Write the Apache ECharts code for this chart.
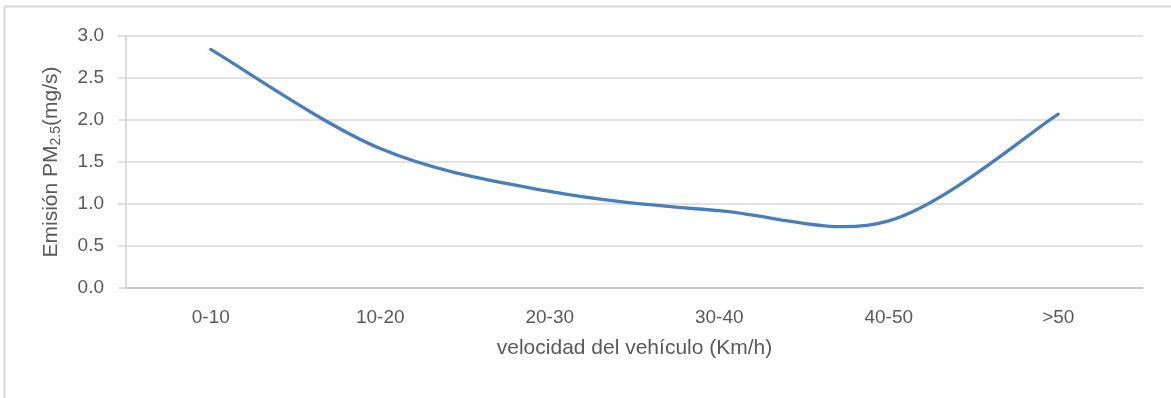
<!DOCTYPE html>
<html>
<head>
<meta charset="utf-8">
<script src="https://cdn.jsdelivr.net/npm/echarts@6/dist/echarts.min.js"></script>
<style>
html,body{margin:0;padding:0;background:#fff;}
#c{width:1171px;height:398px;}
</style>
</head>
<body>
<div id="c"></div>
<script>
const categories = ['0-10', '10-20', '20-30', '30-40', '40-50', '>50'];
const emission = [2.84, 1.66, 1.15, 0.92, 0.80, 2.07];
const yTicks = { min: 0, max: 3.0, interval: 0.5 };

const FONT = '"Liberation Sans", Arial, sans-serif';
const TXT = '#595959';
const LINE = '#4a7ebb';

// Excel-like smoothed line (Catmull-Rom through the data points), drawn from axis coordinates
function renderSpline(params, api) {
  if (params.dataIndex !== 0) return null;
  const pts = emission.map((v, i) => api.coord([i, v]));
  let d = 'M' + pts[0][0] + ' ' + pts[0][1];
  for (let i = 0; i < pts.length - 1; i++) {
    const p0 = pts[i - 1] || pts[i];
    const p1 = pts[i];
    const p2 = pts[i + 1];
    const p3 = pts[i + 2] || pts[i + 1];
    const c1x = p1[0] + (p2[0] - p0[0]) / 6;
    const c1y = p1[1] + (p2[1] - p0[1]) / 6;
    const c2x = p2[0] - (p3[0] - p1[0]) / 6;
    const c2y = p2[1] - (p3[1] - p1[1]) / 6;
    d += ' C' + c1x + ' ' + c1y + ' ' + c2x + ' ' + c2y + ' ' + p2[0] + ' ' + p2[1];
  }
  return {
    type: 'path',
    shape: { pathData: d },
    style: { fill: 'none', stroke: LINE, lineWidth: 3.3, lineCap: 'round', lineJoin: 'round' }
  };
}

const chart = echarts.init(document.getElementById('c'), null, { renderer: 'canvas' });
chart.setOption({
  backgroundColor: '#fff',
  animation: false,
  graphic: [{
    type: 'rect',
    shape: { x: 4.5, y: 6.5, width: 1300, height: 600 },
    style: { fill: 'none', stroke: '#d9d9d9', lineWidth: 2 },
    silent: true,
    z: -10
  }],
  grid: { left: 126, right: 28, top: 36, bottom: 110, containLabel: false },
  xAxis: {
    type: 'category',
    data: categories,
    boundaryGap: true,
    axisLine: { show: true, lineStyle: { color: '#bfbfbf', width: 1.5 } },
    axisTick: { show: false },
    axisLabel: { color: TXT, fontSize: 19, fontFamily: FONT, margin: 20 },
    splitLine: { show: false },
    name: 'velocidad del vehículo (Km/h)',
    nameLocation: 'middle',
    nameGap: 50,
    nameTextStyle: { color: TXT, fontSize: 21, fontFamily: FONT }
  },
  yAxis: {
    type: 'value',
    min: yTicks.min,
    max: yTicks.max,
    interval: yTicks.interval,
    axisLine: { show: true, lineStyle: { color: '#d0d0d0', width: 1.5 } },
    axisTick: { show: true, length: 8, inside: false, lineStyle: { color: '#d9d9d9', width: 1.5 } },
    axisLabel: {
      color: TXT, fontSize: 19, fontFamily: FONT, margin: 22,
      formatter: v => v.toFixed(1)
    },
    splitLine: { show: true, lineStyle: { color: '#d9d9d9', width: 1.5 } },
    name: '{a|Emisión PM}{s|2.5}{a|(mg/s)}',
    nameLocation: 'middle',
    nameGap: 63,
    nameRotate: 90,
    nameTextStyle: {
      color: TXT, fontSize: 21, fontFamily: FONT,
      rich: {
        a: { color: TXT, fontSize: 21, fontFamily: FONT },
        s: { color: TXT, fontSize: 14, fontFamily: FONT, padding: [10, 0, 0, 0] }
      }
    }
  },
  series: [{
    type: 'custom',
    data: emission.map((v, i) => [i, v]),
    renderItem: renderSpline,
    clip: false
  }]
});
</script>
</body>
</html>
